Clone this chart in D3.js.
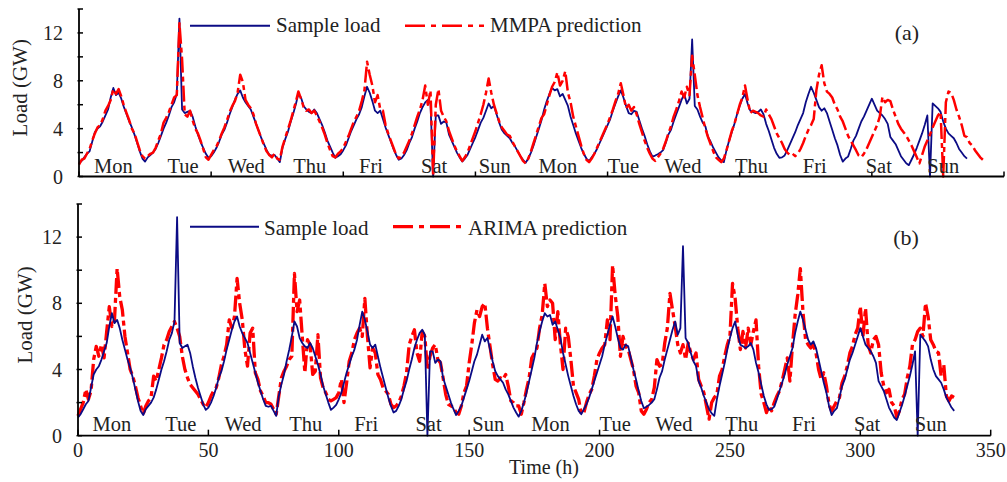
<!DOCTYPE html>
<html><head><meta charset="utf-8">
<script src="https://cdn.jsdelivr.net/npm/d3@7"></script>
<style>
body{margin:0;background:#fff}
svg{display:block}
text{font-family:"Liberation Serif","Times New Roman",serif;fill:#222}
</style>
</head><body>
<svg id="chart" width="1007" height="482"></svg>
<script>
// Hourly sample load (GW), hour 0..336
const sampleLoad = [
1.1,1.3,1.6,1.9,2.1,2.9,3.7,4.0,4.2,4.6,5.1,5.6,6.6,7.4,6.8,7.0,6.5,5.8,5.2,4.6,4.1,3.5,2.8,2.1,
1.5,1.25,1.6,1.8,2.0,2.3,2.8,3.4,4.0,4.5,5.1,5.8,6.2,6.9,13.2,5.6,5.3,5.4,5.5,5.0,4.2,3.5,2.9,2.4,
1.9,1.56,1.7,2.0,2.4,2.9,3.5,3.9,4.5,5.2,5.8,6.4,6.9,7.2,6.6,6.2,5.9,5.6,5.0,4.4,3.8,3.2,2.7,2.2,
1.8,1.75,1.8,1.5,1.2,2.4,3.1,3.7,4.5,5.2,6.0,6.9,6.6,5.9,5.6,5.4,5.3,5.6,5.3,4.8,4.3,3.7,3.0,2.5,
2.0,1.56,1.7,1.86,2.2,2.6,3.2,3.8,4.3,4.8,5.2,5.8,6.7,7.5,7.0,6.3,5.5,5.3,5.5,4.8,4.1,3.5,2.9,2.3,
1.8,1.4,1.5,1.8,2.2,2.8,3.3,4.0,4.6,5.3,5.8,6.2,6.4,6.1,0.0,5.1,5.1,4.4,4.6,4.5,3.5,3.0,2.5,2.0,
1.6,1.25,1.5,1.8,2.3,2.8,3.3,3.9,4.5,4.9,5.5,6.1,5.7,5.9,5.2,4.5,3.9,3.6,3.4,3.2,2.8,2.5,2.1,1.7,
1.4,1.15,1.5,2.0,2.6,3.3,4.0,4.7,5.6,6.3,6.9,7.4,7.2,7.3,6.7,6.9,6.4,5.9,5.0,4.3,3.6,3.0,2.4,1.9,
1.5,1.3,1.6,1.9,2.3,2.8,3.3,3.8,4.3,4.8,5.5,6.1,6.7,7.2,6.6,5.9,5.3,5.2,5.5,5.4,4.7,4.0,3.4,2.7,
2.1,1.66,1.75,1.86,2.0,2.2,2.8,3.5,3.9,4.6,5.2,5.8,6.4,6.9,6.1,6.5,11.45,5.9,5.6,5.0,4.5,4.2,3.3,2.9,
2.4,2.0,1.6,1.35,1.2,2.2,3.0,3.7,4.4,5.2,5.9,6.5,6.9,6.1,5.5,5.4,5.3,5.4,5.6,5.2,4.4,3.8,3.1,2.4,
1.9,1.56,1.6,1.76,2.2,2.7,3.2,3.7,4.3,4.8,5.3,6.2,6.9,7.5,7.0,6.4,5.8,5.5,5.7,5.3,4.6,3.9,3.2,2.6,
1.8,1.25,1.5,1.66,2.3,3.0,3.4,4.0,4.6,5.0,5.5,6.0,6.5,6.0,5.5,5.3,5.1,4.8,4.4,3.3,3.0,2.7,2.2,1.7,
1.4,1.1,0.95,1.4,1.86,2.4,3.0,3.6,4.3,5.1,0.0,6.1,5.9,5.7,5.4,4.6,4.0,3.6,3.4,3.2,2.8,2.3,2.0,1.7,1.5
];
// Hourly MMPA prediction (GW), hour 0..342
const mmpaPred = [
1.0,1.4,1.5,1.9,2.3,3.0,3.6,4.1,4.3,4.8,5.5,5.9,6.4,7.3,6.9,7.3,6.7,5.9,5.3,4.7,4.0,3.6,2.9,2.2,
1.7,1.5,1.7,1.9,2.0,2.4,3.0,3.6,4.5,4.9,5.4,6.0,6.6,6.8,12.8,9.8,5.2,5.0,5.5,4.7,4.0,3.6,3.0,2.3,
1.6,1.4,1.8,2.2,2.5,3.0,3.6,4.1,4.7,5.4,5.9,6.3,7.0,8.5,7.9,6.4,6.0,5.7,5.2,4.4,3.8,3.2,2.6,2.1,
1.8,1.6,1.9,1.5,1.4,2.5,3.2,3.9,4.6,5.4,6.2,7.1,6.5,5.8,5.5,5.6,5.3,5.5,5.1,4.6,4.1,3.5,2.8,2.2,
1.7,1.6,1.9,2.1,2.4,2.9,3.4,4.0,4.6,5.0,5.5,6.3,7.2,9.6,8.5,7.6,6.2,6.8,5.6,5.5,4.3,3.6,3.0,2.4,
1.8,1.5,1.7,2.0,2.5,3.0,3.6,4.3,5.0,5.6,6.4,7.6,6.0,7.2,0.0,6.0,7.3,5.5,5.0,4.6,3.8,3.2,2.6,2.1,
1.7,1.3,1.6,2.0,2.6,3.2,3.8,4.5,5.2,6.0,7.0,8.2,7.0,6.0,5.3,4.6,4.1,3.8,3.5,3.4,2.9,2.5,2.1,1.7,
1.3,1.1,1.5,2.1,2.8,3.5,4.2,4.9,5.2,6.0,6.8,7.5,7.9,8.7,7.6,8.0,8.8,7.0,6.2,5.0,4.2,3.4,2.6,1.9,
1.4,1.2,1.5,1.9,2.4,2.9,3.4,3.9,4.4,5.0,5.6,6.3,6.9,7.8,6.8,5.7,6.0,5.5,5.8,5.2,4.4,3.7,3.0,2.4,
1.9,1.5,1.3,1.6,1.9,2.3,2.9,3.6,4.2,5.0,5.6,6.3,7.1,6.6,7.5,6.8,10.1,8.5,6.8,5.8,4.9,4.0,3.3,2.7,
2.1,1.6,1.4,1.2,1.5,2.2,3.0,3.8,4.4,5.2,6.0,6.6,7.6,6.4,5.3,5.5,5.4,5.3,5.1,5.0,5.6,5.2,4.8,4.2,
3.6,3.2,2.8,2.3,2.0,1.8,1.9,1.7,1.9,2.3,2.8,3.4,3.9,4.3,4.8,7.2,8.5,9.3,7.8,7.1,6.9,6.6,6.0,5.6,
5.0,4.6,4.0,3.4,3.0,2.6,2.2,1.75,1.6,1.9,2.3,2.8,3.3,3.8,4.3,5.0,6.65,6.2,6.4,6.3,5.6,5.0,4.4,4.0,
3.7,3.4,3.0,2.6,2.1,1.6,1.1,1.8,2.5,3.0,3.5,4.1,4.6,5.1,5.4,0.0,6.2,7.1,7.0,6.4,5.6,5.0,4.3,3.4,3.3,2.8,2.6,2.2,1.9,1.6,1.4
];
// Hourly ARIMA prediction (GW), hour 0..336
const arimaPred = [
1.2,1.6,2.0,2.8,2.2,2.7,4.6,5.4,4.8,5.5,4.7,6.3,7.8,6.6,7.0,10.1,8.4,7.6,6.0,5.0,4.0,3.6,3.0,2.3,
1.8,1.3,1.8,2.1,2.3,3.6,3.3,4.0,4.7,5.5,5.8,6.3,6.6,6.9,6.5,6.0,4.8,4.0,3.5,3.1,2.9,2.7,2.5,2.2,
1.9,1.7,2.0,2.4,2.7,2.9,3.5,4.3,4.8,5.5,7.0,6.5,7.2,9.5,8.0,7.0,5.2,4.2,6.2,6.5,3.8,3.4,2.7,2.4,
2.0,2.0,1.9,1.6,1.3,2.4,3.5,3.9,4.2,4.6,4.8,9.8,7.5,8.2,6.0,3.8,5.8,5.5,3.7,3.9,6.1,3.5,2.9,2.6,
2.2,2.1,2.2,2.3,2.6,3.4,2.0,3.2,4.5,5.0,5.8,6.2,6.5,6.0,8.3,6.0,4.1,5.3,5.0,3.7,3.4,2.9,2.7,2.5,
1.9,1.7,1.8,2.0,2.4,3.0,3.8,5.5,6.0,6.4,5.0,4.5,6.3,6.0,4.0,4.8,5.3,5.5,4.6,4.4,3.5,2.5,1.9,1.8,
1.7,1.4,1.3,1.8,2.6,3.0,4.4,5.5,6.8,7.6,7.2,7.8,8.0,6.5,5.4,4.3,3.4,3.3,3.5,3.4,3.7,3.0,2.1,2.0,
1.8,1.8,1.3,2.0,2.8,3.5,4.7,5.0,5.3,6.5,7.3,9.2,7.8,8.2,8.0,5.8,7.5,5.5,4.0,6.5,6.0,4.6,3.0,2.6,
2.2,1.3,1.4,2.0,2.5,2.8,3.6,4.6,5.0,5.3,5.5,7.0,5.8,10.3,8.5,7.2,4.8,6.0,5.4,5.2,4.6,4.0,3.0,2.6,
1.5,1.3,1.6,2.0,2.2,2.9,4.6,4.2,4.3,5.6,6.5,8.6,7.6,6.6,5.5,5.0,5.5,4.6,5.6,5.0,4.6,5.0,3.4,3.0,
2.6,1.8,1.0,2.0,2.3,2.5,3.6,4.0,4.8,5.5,6.0,9.2,8.3,6.5,5.2,6.3,5.3,6.5,5.5,6.3,7.0,4.2,2.5,2.0,
1.4,1.8,1.5,2.0,2.4,2.7,3.3,4.0,4.7,3.3,5.5,7.3,8.5,10.1,7.5,5.8,5.5,5.3,5.5,5.0,4.0,3.4,3.8,3.0,
1.9,1.5,1.8,2.1,2.3,3.2,3.6,4.2,5.0,5.4,6.1,6.5,7.8,6.0,7.7,5.5,5.0,5.8,6.0,5.5,3.8,3.0,2.6,2.8,
2.0,1.8,1.1,1.5,2.2,2.5,3.5,4.2,5.5,5.8,6.3,6.5,6.0,8.0,7.2,5.8,5.5,5.1,5.0,3.6,4.3,2.4,2.1,2.4,2.3
];
const dayLabels = ["Mon","Tue","Wed","Thu","Fri","Sat","Sun","Mon","Tue","Wed","Thu","Fri","Sat","Sun"];
const dayLabelHours = [13,39.4,63.3,87.3,110.5,134.4,157.3,181.2,206,228.5,254.5,278.4,302.6,327];
const xTicks = [0,50,100,150,200,250,300,350];
const yTickLabels = [0,4,8,12];
const yTicksAll = [0,2,4,6,8,10,12,14];

const svg = d3.select("#chart");
const BLUE = "#0b0b85", RED = "#ff0000";

const panels = [
  {id:"a", xr:[79,1004], yr:[176.5,9], xLabels:false, tickLen:5,
   pred:mmpaPred, predName:"MMPA prediction", predW:2.5, predFirst:false,
   legY:25.7, legTextY:32, blueL:[190,270], blueText:276, redL:[405,484], redText:490,
   tag:"(a)", tagX:907, tagY:40, yLabelX:20, dayY:173},
  {id:"b", xr:[78,990.7], yr:[435.7,204], xLabels:true, tickLen:6,
   pred:arimaPred, predName:"ARIMA prediction", predW:3.3, predFirst:true,
   legY:226.7, legTextY:235, blueL:[190,259], blueText:264, redL:[393,462], redText:468,
   tag:"(b)", tagX:906, tagY:245, yLabelX:25, dayY:431}
];

panels.forEach(p => {
  const x = d3.scaleLinear().domain([0,350]).range(p.xr);
  const y = d3.scaleLinear().domain([0,14]).range(p.yr);
  const g = svg.append("g");

  const lineGen = d3.line().x((d,i)=>x(i)).y(d=>y(d));
  const drawBlue = () => g.append("path").datum(sampleLoad)
      .attr("d", lineGen).attr("fill","none").attr("stroke",BLUE)
      .attr("stroke-width",1.8).attr("stroke-linejoin","round");
  const drawRed = () => g.append("path").datum(p.pred)
      .attr("d", lineGen).attr("fill","none").attr("stroke",RED)
      .attr("stroke-width",p.predW).attr("stroke-dasharray","16,4,5,4")
      .attr("stroke-linejoin","round");
  if (p.predFirst) { drawRed(); drawBlue(); } else { drawBlue(); drawRed(); }

  // axes
  g.append("line").attr("x1",x(0)).attr("x2",x(0)).attr("y1",y(0)).attr("y2",y(14))
    .attr("stroke","#000").attr("stroke-width",1.8);
  g.append("line").attr("x1",x(0)).attr("x2",x(350)).attr("y1",y(0)).attr("y2",y(0))
    .attr("stroke","#000").attr("stroke-width",1.8);
  yTicksAll.forEach(v => {
    g.append("line").attr("x1",x(0)-1.5).attr("x2",x(0)+4).attr("y1",y(v)).attr("y2",y(v))
      .attr("stroke","#000").attr("stroke-width",1.5);
  });
  yTickLabels.forEach(v => {
    g.append("text").attr("x",x(0)-16).attr("y",y(v)).attr("dy","0.35em")
      .attr("text-anchor","end").attr("font-size",20).text(v);
  });
  xTicks.forEach(v => {
    g.append("line").attr("x1",x(v)).attr("x2",x(v)).attr("y1",y(0)).attr("y2",y(0)-p.tickLen)
      .attr("stroke","#000").attr("stroke-width",1.5);
    if (p.xLabels) {
      g.append("text").attr("x",x(v)).attr("y",y(0)+21.5)
        .attr("text-anchor","middle").attr("font-size",20).text(v);
    }
  });
  // day labels
  dayLabels.forEach((d,i) => {
    g.append("text").attr("x",x(dayLabelHours[i])).attr("y",p.dayY)
      .attr("text-anchor","middle").attr("font-size",20.5).text(d);
  });
  // y label
  const yMid = (p.yr[0]+p.yr[1])/2 - 5;
  g.append("text").attr("transform",`translate(${p.yLabelX},${yMid}) rotate(-90)`)
    .attr("dy","0.35em").attr("text-anchor","middle").attr("font-size",21).text("Load (GW)");
  // legend
  g.append("line").attr("x1",p.blueL[0]).attr("x2",p.blueL[1]).attr("y1",p.legY).attr("y2",p.legY)
    .attr("stroke",BLUE).attr("stroke-width",2);
  g.append("text").attr("x",p.blueText).attr("y",p.legTextY).attr("font-size",21).text("Sample load");
  g.append("line").attr("x1",p.redL[0]).attr("x2",p.redL[1]).attr("y1",p.legY).attr("y2",p.legY)
    .attr("stroke",RED).attr("stroke-width",p.predW).attr("stroke-dasharray","20,6,5,6");
  g.append("text").attr("x",p.redText).attr("y",p.legTextY).attr("font-size",21).text(p.predName);
  g.append("text").attr("x",p.tagX).attr("y",p.tagY).attr("text-anchor","middle")
    .attr("font-size",22).text(p.tag);
});

svg.append("text").attr("x",544).attr("y",474).attr("text-anchor","middle")
  .attr("font-size",20).text("Time (h)");
</script>
</body></html>
